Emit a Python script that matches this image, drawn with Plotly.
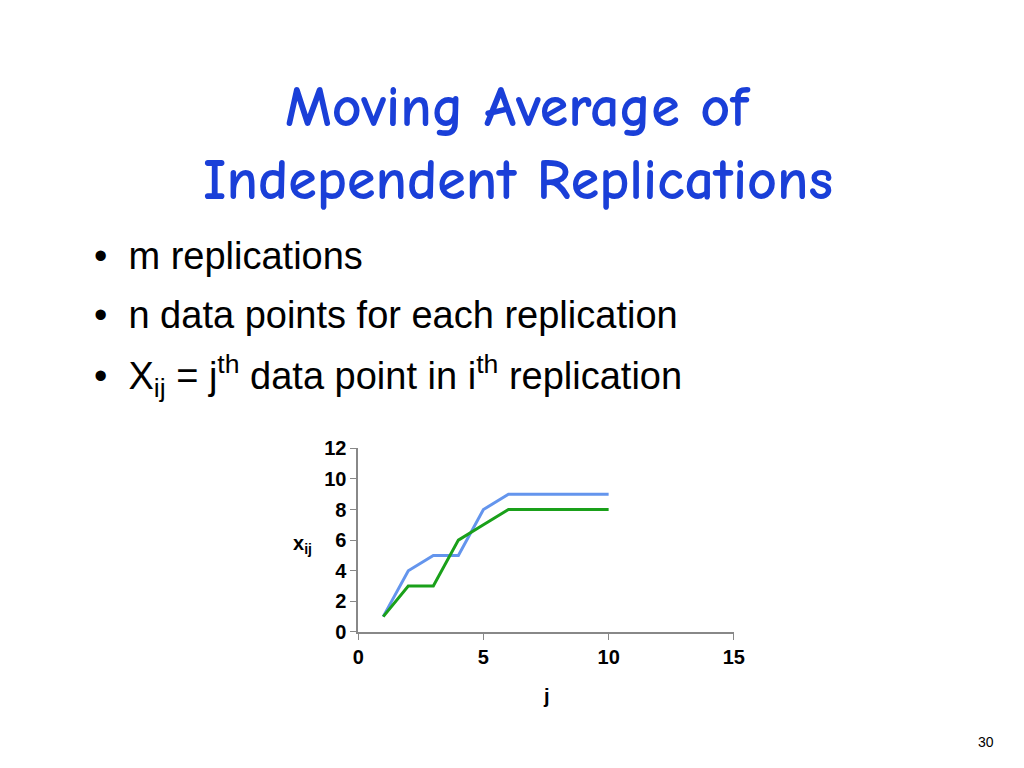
import plotly.graph_objects as go

j = [1, 2, 3, 4, 5, 6, 7, 8, 9, 10]
rep1 = [1, 4, 5, 5, 8, 9, 9, 9, 9, 9]
rep2 = [1, 3, 3, 6, 7, 8, 8, 8, 8, 8]
x_ticks = [0, 5, 10, 15]
y_ticks = [0, 2, 4, 6, 8, 10, 12]

# page seems offset a few pixels in the browser, so shift everything by that
OFF = 6


def px(x):
    return (x - OFF) / 1024


def py(y):
    return 1 - (y - OFF) / 768


fig = go.Figure()
fig.add_trace(go.Scatter(x=j, y=rep1, mode="lines", line=dict(color="#6495ED", width=3)))
fig.add_trace(go.Scatter(x=j, y=rep2, mode="lines", line=dict(color="#1AA01A", width=3)))

axis_common = dict(showgrid=False, zeroline=False, showline=True, linecolor="#888888",
                   linewidth=1.5, ticks="outside", ticklen=6, tickcolor="#888888",
                   tickfont=dict(family="Liberation Sans, Arial", size=20, color="black",
                                 weight="bold"))
fig.update_xaxes(range=[0, 15], tickvals=x_ticks, domain=[px(356), px(738)], **axis_common)
fig.update_yaxes(range=[0, 12], tickvals=y_ticks, domain=[py(637), py(448)], **axis_common)

title_font = dict(family="Comic Sans MS, Comic Neue, DejaVu Sans", size=58, color="#1A3FD8",
                  weight="bold")
fig.add_annotation(text="<b>Moving Average of</b>", x=0.5, y=py(97), xref="paper", yref="paper",
                   yanchor="middle", showarrow=False, font=title_font)
fig.add_annotation(text="<b>Independent Replications</b>", x=0.5, y=py(172), xref="paper",
                   yref="paper", yanchor="middle", showarrow=False, font=title_font)

bullet_font = dict(family="Liberation Sans, Arial", size=38, color="black")
bullets = ["•  m replications", "•  n data points for each replication",
           "•  X<sub>ij</sub> = j<sup>th</sup> data point in i<sup>th</sup> replication"]
for text, yp in zip(bullets, [250, 311, 374]):
    fig.add_annotation(text=text, x=px(85), y=py(yp), xref="paper", yref="paper",
                       xanchor="left", yanchor="middle", showarrow=False, font=bullet_font)

label_font = dict(family="Liberation Sans, Arial", size=20, color="black", weight="bold")
fig.add_annotation(text="x<sub>ij</sub>", x=px(288), y=py(547), xref="paper",
                   yref="paper", yanchor="middle", showarrow=False, font=label_font)
fig.add_annotation(text="j", x=px(547), y=py(703), xref="paper", yref="paper",
                   yanchor="middle", showarrow=False, font=label_font)
fig.add_annotation(text="30", x=px(1005), y=py(750), xref="paper", yref="paper",
                   yanchor="middle", showarrow=False,
                   font=dict(family="Liberation Sans, Arial", size=14, color="black"))

fig.update_layout(width=1024, height=768, margin=dict(l=0, r=0, t=0, b=0), showlegend=False,
                  plot_bgcolor="white", paper_bgcolor="white")
fig.write_html("out.html")
